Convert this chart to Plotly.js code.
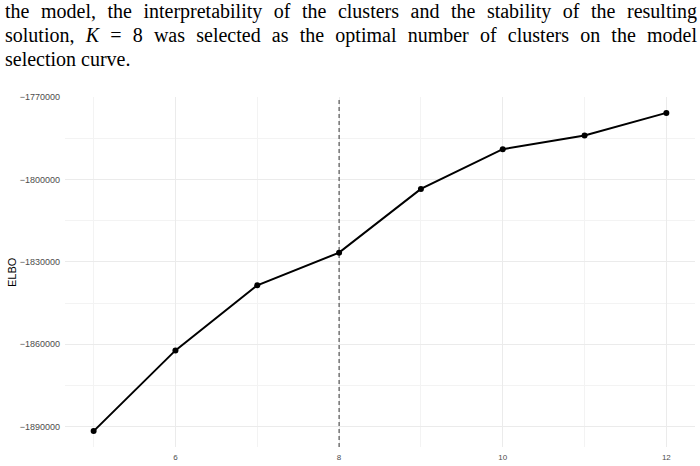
<!DOCTYPE html>
<html>
<head>
<meta charset="utf-8">
<script src="https://cdn.plot.ly/plotly-3.0.1.min.js"></script>
<style>
  html, body { margin: 0; padding: 0; background: #fff; }
  body { width: 700px; height: 466px; position: relative; overflow: hidden; }
  #txt { position: absolute; left: 5px; top: -1px; width: 692px; font-family: "Liberation Serif", serif; font-size: 20px; line-height: 24px; color: #000; }
  #txt div.jj { text-align: justify; text-align-last: justify; white-space: nowrap; }
  #plot { position: absolute; left: 0; top: 0; width: 700px; height: 466px; }
</style>
</head>
<body>
<div id="plot"></div>
<div id="txt">
  <div class="jj">the model, the interpretability of the clusters and the stability of the resulting</div>
  <div class="jj">solution, <i>K</i> = 8 was selected as the optimal number of clusters on the model</div>
  <div>selection curve.</div>
</div>
<script>
const clusters = [5, 6, 7, 8, 9, 10, 11, 12];
const elbo = [-1891600, -1862200, -1838500, -1826600, -1803400, -1788900, -1783900, -1775700];
const selectedK = 8;
const xTicks = [6, 8, 10, 12];
const yTicks = [-1890000, -1860000, -1830000, -1800000, -1770000];
const yTitle = 'ELBO';

const yMin = Math.min(...elbo), yMax = Math.max(...elbo);
const yPad = (yMax - yMin) * 0.05;
const xPad = (Math.max(...clusters) - Math.min(...clusters)) * 0.05;

const traces = [
  {
    x: [selectedK, selectedK],
    y: [yMin - yPad, yMax + yPad],
    mode: 'lines',
    line: { color: '#333333', width: 1, dash: '4px,3px' },
    hoverinfo: 'skip',
    showlegend: false
  },
  {
    x: clusters,
    y: elbo,
    mode: 'lines+markers',
    line: { color: '#000000', width: 2 },
    marker: { color: '#000000', size: 6 },
    showlegend: false
  }
];

const layout = {
  width: 700,
  height: 466,
  margin: { l: 65, r: 5, t: 97, b: 19, pad: 0 },
  paper_bgcolor: 'rgba(0,0,0,0)',
  plot_bgcolor: '#ffffff',
  font: { family: 'Liberation Sans, Arial, sans-serif', size: 8, color: '#4d4d4d' },
  xaxis: {
    range: [Math.min(...clusters) - xPad, Math.max(...clusters) + xPad],
    tickvals: xTicks,
    ticktext: xTicks.map(String),
    showgrid: true,
    gridcolor: '#ebebeb',
    gridwidth: 1,
    minor: { dtick: 1, tick0: 5, showgrid: true, gridcolor: '#f3f3f3', gridwidth: 1 },
    zeroline: false,
    showline: false,
    ticks: '',
    ticklabelstandoff: 4,
    tickfont: { size: 8, color: '#4d4d4d' }
  },
  yaxis: {
    range: [yMin - yPad, yMax + yPad],
    tickvals: yTicks,
    tickformat: 'd',
    showgrid: true,
    gridcolor: '#ebebeb',
    gridwidth: 1,
    minor: { dtick: 15000, tick0: -1890000, showgrid: true, gridcolor: '#f3f3f3', gridwidth: 1 },
    zeroline: false,
    showline: false,
    ticks: '',
    ticklabelstandoff: 4,
    tickfont: { size: 9, color: '#4d4d4d' }
  },
  annotations: [{
    text: yTitle,
    xref: 'paper', yref: 'paper',
    x: 0, y: 0.5,
    xanchor: 'center', yanchor: 'middle',
    xshift: -53,
    textangle: -90,
    showarrow: false,
    font: { family: 'Liberation Sans, Arial, sans-serif', size: 11, color: '#000000' }
  }]
};

Plotly.newPlot('plot', traces, layout, { displayModeBar: false, staticPlot: true });
</script>
</body>
</html>
